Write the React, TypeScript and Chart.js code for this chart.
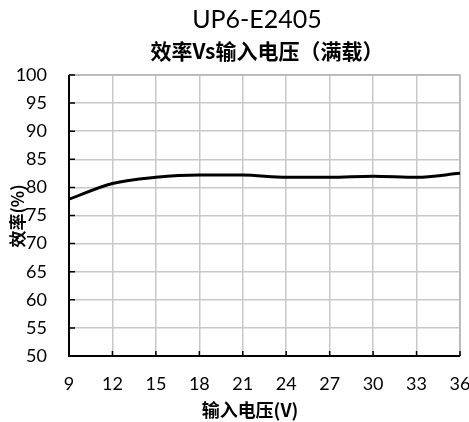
import React, { useEffect, useRef } from "react";
import { Chart, registerables } from "chart.js";

Chart.register(...registerables);

const titleText = "UP6-E2405";
const subtitleText = "效率Vs输入电压（满载）";
const xTitle = "输入电压(V)";
const yTitle = "效率(%)";

const inputVoltage = [9, 12, 15, 18, 21, 24, 27, 30, 33, 36];
const efficiency = [77.9, 80.7, 81.8, 82.2, 82.2, 81.8, 81.8, 82.0, 81.8, 82.5];

const xTicks = [9, 12, 15, 18, 21, 24, 27, 30, 33, 36];
const yMin = 50;
const yMax = 100;
const yStep = 5;

const LATIN = "Lato, 'Noto Sans CJK SC', sans-serif";
const CJK = "'Noto Sans CJK SC', sans-serif";

// Titles, axis titles, inward tick marks and the black axis lines
const decorations = {
  id: "decorations",
  afterDraw(chart: any) {
    const { ctx, chartArea } = chart;
    const { left, right, top, bottom } = chartArea;
    const xs = chart.scales.x;
    const ys = chart.scales.y;
    ctx.save();

    // axis lines
    ctx.strokeStyle = "#000";
    ctx.lineWidth = 2;
    ctx.beginPath();
    ctx.moveTo(left, top);
    ctx.lineTo(left, bottom);
    ctx.lineTo(right, bottom);
    ctx.stroke();

    // inward ticks
    ctx.lineWidth = 1.5;
    ctx.beginPath();
    for (const v of xTicks) {
      const px = xs.getPixelForValue(v);
      ctx.moveTo(px, bottom);
      ctx.lineTo(px, bottom - 5);
    }
    for (let v = yMin; v <= yMax; v += yStep) {
      const py = ys.getPixelForValue(v);
      ctx.moveTo(left, py);
      ctx.lineTo(left + 6, py);
    }
    ctx.stroke();

    ctx.fillStyle = "#000";
    ctx.textBaseline = "middle";
    ctx.textAlign = "center";

    ctx.font = `25px ${LATIN}`;
    ctx.fillText(titleText, 257, 20);

    ctx.font = `bold 21px ${CJK}`;
    ctx.fillText(subtitleText, 267, 51);

    ctx.font = `bold 18px ${CJK}`;
    ctx.fillText(xTitle, 250, 410);

    ctx.translate(18, 216);
    ctx.rotate(-Math.PI / 2);
    ctx.font = `bold 17px ${CJK}`;
    ctx.fillText(yTitle, 0, 0);

    ctx.restore();
  },
};

export default function App() {
  const canvasRef = useRef<HTMLCanvasElement | null>(null);

  useEffect(() => {
    const canvas = canvasRef.current;
    if (!canvas) return;
    const chart = new Chart(canvas, {
      type: "line",
      data: {
        datasets: [
          {
            data: inputVoltage.map((x, i) => ({ x, y: efficiency[i] })),
            borderColor: "#000",
            borderWidth: 3,
            pointRadius: 0,
            cubicInterpolationMode: "monotone",
            fill: false,
          },
        ],
      },
      options: {
        animation: false,
        responsive: false,
        devicePixelRatio: 1,
        layout: { padding: { top: 75, right: 9, bottom: 0, left: 0 } },
        plugins: {
          legend: { display: false },
          title: { display: false },
          tooltip: { enabled: false },
        },
        scales: {
          x: {
            type: "linear",
            min: 9,
            max: 36,
            afterBuildTicks: (scale: any) => {
              scale.ticks = xTicks.map((v) => ({ value: v }));
            },
            afterFit: (scale: any) => {
              scale.height = 66;
              scale.paddingLeft = 0;
              scale.paddingRight = 0;
            },
            grid: { color: "#c8c8c8", lineWidth: 1.5, drawTicks: false },
            border: { display: true, color: "#c8c8c8" },
            ticks: {
              color: "#000",
              padding: 17,
              maxRotation: 0,
              font: { family: LATIN, size: 18 },
            },
          },
          y: {
            min: yMin,
            max: yMax,
            afterFit: (scale: any) => {
              scale.width = 69;
              scale.paddingTop = 0;
              scale.paddingBottom = 0;
            },
            grid: { color: "#c8c8c8", lineWidth: 1.5, drawTicks: false },
            border: { display: true, color: "#c8c8c8" },
            ticks: {
              stepSize: yStep,
              color: "#000",
              padding: 22,
              font: { family: LATIN, size: 18 },
            },
          },
        },
      },
      plugins: [
        decorations,
        {
          id: "frame",
          beforeDatasetsDraw(chart: any) {
            const { ctx, chartArea } = chart;
            ctx.save();
            ctx.strokeStyle = "#b4b4b4";
            ctx.lineWidth = 1.5;
            ctx.beginPath();
            ctx.moveTo(chartArea.left, chartArea.top);
            ctx.lineTo(chartArea.right, chartArea.top);
            ctx.lineTo(chartArea.right, chartArea.bottom);
            ctx.stroke();
            ctx.restore();
          },
        },
      ],
    } as any);
    return () => chart.destroy();
  }, []);

  return (
    <div style={{ position: "absolute", left: 0, top: 0, width: 469, height: 422, background: "#fff" }}>
      <canvas ref={canvasRef} width={469} height={422} style={{ display: "block" }} />
    </div>
  );
}
